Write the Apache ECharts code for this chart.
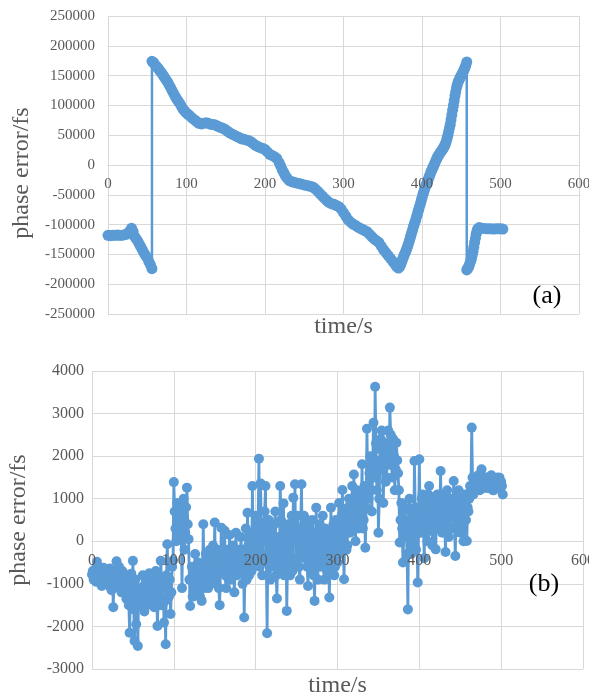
<!DOCTYPE html>
<html>
<head>
<meta charset="utf-8">
<script src="https://cdn.jsdelivr.net/npm/echarts@6/dist/echarts.min.js"></script>
<style>
html,body{margin:0;padding:0;background:#fff;}
#c{width:589px;height:696px;}
</style>
</head>
<body>
<div id="c"></div>
<script>
// ---- chart (a): time (s) and phase error (fs) ----
const timeA = [
  0,3,6,9,12,15,18,21,24,27,
  30,32,34,36,38,40,42,44,46,48,
  50,52,54,56,56,58,60,62,64,66,
  68,70,72,74,76,78,80,82,84,86,
  88,90,92,94,96,98,100,102,104,107,
  110,113,116,119,122,125,128,131,134,137,
  140,143,146,149,152,155,158,161,164,167,
  170,173,176,179,182,185,188,191,194,197,
  200,203,206,209,212,215,218,220,222,224,
  226,228,231,234,237,240,243,246,249,252,
  255,258,261,264,267,270,273,276,279,282,
  285,288,291,294,297,300,303,306,309,312,
  315,318,321,324,327,330,333,336,339,342,
  345,348,351,354,357,360,363,366,368,370,
  372,373,374,375,376,377,378,379,380,381,
  382,383,384,385,386,387,388,389,390,391,
  392,393,394,395,396,397,398,399,400,401,
  402,403,404,405,406,407,408,409,410,411,
  412,413,414,415,416,417,418,419,420,421,
  422,423,424,425,426,427,428,429,430,431,
  432,433,434,435,436,437,438,439,440,441,
  442,443,444,445,446,447,448,449,450,451,
  452,453,454,455,456,457,457,458,459,460,
  461,462,463,464,465,466,467,468,469,470,
  471,473,476,479,482,485,488,491,494,497,
  500,503
];
const phaseA = [
  -118000,-118500,-118000,-118000,-117500,-118000,-118000,-117000,-116000,-112000,
  -106000,-112000,-120000,-124000,-128000,-133000,-138000,-143000,-148000,-152000,
  -156000,-162000,-167000,-174000,174000,172000,168000,165000,162000,158000,
  155000,151000,147000,143000,139000,134000,129000,124000,119000,114000,
  110000,106000,102000,97000,93000,90000,87000,85000,83000,79000,
  76000,73000,70000,69000,70000,71000,70000,68000,68000,67000,
  65000,63000,62000,60000,57000,54000,52000,50000,48000,46000,
  44000,43000,42000,41000,39000,36000,33000,31000,29000,28000,
  26000,22000,18000,16000,14000,11000,4000,-2000,-8000,-13000,
  -18000,-22000,-26000,-28000,-29000,-30000,-31000,-32000,-33000,-34000,
  -35000,-36000,-37000,-40000,-44000,-48000,-52000,-56000,-60000,-63000,
  -65000,-66000,-68000,-70000,-74000,-80000,-86000,-92000,-96000,-99000,
  -101000,-104000,-106000,-108000,-110000,-112000,-116000,-120000,-124000,-127000,
  -130000,-136000,-142000,-147000,-152000,-157000,-162000,-167000,-171000,-173000,
  -170000,-166000,-163000,-159000,-156000,-152000,-149000,-146000,-143000,-139000,
  -135000,-131000,-127000,-122000,-118000,-113000,-109000,-104000,-100000,-96000,
  -92000,-87000,-83000,-78000,-74000,-69000,-65000,-60000,-55000,-50000,
  -46000,-42000,-38000,-34000,-31000,-27000,-24000,-20000,-17000,-13000,
  -10000,-7000,-4000,-1000,2000,5000,8000,11000,14000,16000,
  18000,20000,22000,24000,26000,28000,30000,33000,36000,40000,
  45000,50000,56000,62000,68000,76000,84000,92000,100000,108000,
  116000,123000,130000,135000,139000,142000,145000,148000,150000,153000,
  155000,158000,161000,164000,168000,173000,-176000,-174000,-172000,-169000,
  -165000,-161000,-157000,-151000,-145000,-138000,-130000,-123000,-116000,-111000,
  -107000,-105000,-106000,-106500,-107000,-107000,-107000,-107500,-107000,-107000,
  -107000,-107500
];

// ---- chart (b): samples at even seconds (0,2,4,...) and odd seconds (1,3,5,...) ----
const phaseBEven = [
  -780,-900,-650,-480,-950,-700,-1050,-620,-880,-720,
  -1000,-640,-1150,-1550,-700,-470,-1080,-650,-1200,-760,
  -900,-1350,-1100,-2150,-760,-460,-2340,-1950,-2460,-1200,
  -1500,-800,-1650,-900,-1300,-750,-1450,-850,-1550,-700,
  -1990,-900,-460,-1500,-1910,-2420,-70,-1300,-1710,-600,
  1390,300,900,100,750,-1100,1000,200,1260,50,
  -1520,-600,-1200,-300,-1000,-500,-1300,-1400,400,-800,
  -400,-1100,-200,-900,-100,440,-1000,-300,-1500,320,
  -700,250,-1100,-200,150,-900,-100,-1200,200,-600,
  -300,100,-1000,-1790,300,670,-800,200,1300,-500,
  600,-400,1940,1360,-800,400,1300,-2160,500,-900,
  300,-600,700,-1345,100,1300,-700,890,-300,-1635,
  400,-800,600,1025,1340,-500,200,-900,1340,-300,
  -400,500,-1050,300,-700,200,-1400,790,-900,400,
  -300,600,-900,200,-600,-1320,790,-200,-800,500,
  -500,900,-200,1205,-890,700,-100,1000,300,1300,
  1570,0,1200,300,900,1810,500,-150,2645,1000,
  2000,700,2785,3630,1200,200,2160,2600,900,2300,
  1500,2600,3140,1800,2400,1200,2315,1600,-30,900,
  -500,800,200,-1600,1000,-300,600,1885,-200,-970,
  1925,200,1100,-400,900,0,1300,300,-100,1000,
  -190,1100,300,1650,200,900,-250,1200,100,800,
  1000,1415,-345,700,1200,200,900,0,1100,5,
  700,1300,2670,1100,1450,1250,1550,1200,1690,1350,
  1500,1250,1450,1300,1550,1200,1400,1350,1500,1495,
  1400,1100
];
const phaseBOdd = [
  -700,-850,-950,-600,-800,-1000,-750,-900,-650,-950,
  -800,-1100,-700,-900,-1050,-850,-600,-1000,-700,-1100,
  -1200,-800,-1500,-1000,-1300,-1600,-900,-1400,-1100,-1500,
  -1100,-1400,-1000,-1500,-950,-1200,-1100,-1350,-1000,-1250,
  -1200,-1500,-900,-1100,-1400,-800,-1000,-900,-1200,-450,
  700,0,500,800,200,600,-200,800,400,-900,
  -900,-1300,-700,-1100,-800,-1200,-600,-900,-1100,-300,
  -800,-600,-1000,-400,-700,-900,-200,-1100,-600,-400,
  -300,-800,-500,-900,-400,-200,-700,-300,-800,-200,
  -700,-400,-200,-600,-900,-100,-400,-700,-100,200,
  -200,500,-600,200,-300,700,-500,0,-400,300,
  -300,400,-800,0,-500,500,-200,-800,300,-400,
  -200,300,-700,100,-400,600,-600,300,-200,600,
  100,-600,0,-400,500,-800,-200,-500,200,-600,
  200,-500,300,-700,100,-400,-100,400,-600,0,
  300,-300,600,0,400,-200,800,200,600,500,
  600,900,400,1100,600,300,1300,800,1200,1600,
  1200,1800,1500,2300,1900,1000,2400,1700,2000,1400,
  2100,1800,2500,1500,2000,1700,1900,1200,500,300,
  100,500,-300,400,700,100,-100,800,400,200,
  600,1000,400,800,200,1100,500,900,300,600,
  500,900,700,300,1100,400,800,500,1000,300,
  600,300,1000,400,700,1100,300,800,500,800,
  1000,1200,1500,1300,1200,1400,1300,1500,1250,1450,
  1300,1500,1250,1400,1350,1200,1450,1300,1250,1350,
  1300
];

// ---- axis ranges / labels ----
const xRange = {min: 0, max: 600, interval: 100};
const yRangeA = {min: -250000, max: 250000, interval: 50000};
const yRangeB = {min: -3000, max: 4000, interval: 1000};
const xTitle = 'time/s';
const yTitle = 'phase error/fs';
const panelTags = ['(a)', '(b)'];

const FONT = 'Liberation Serif';
const GRID_C = '#d9d9d9';
const TXT_C = '#595959';
const BLUE = '#5B9BD5';

const dataA = timeA.map((t, i) => [t, phaseA[i]]);
const dataB = [];
phaseBEven.forEach((v, i) => {
  dataB.push([2 * i, v]);
  if (i < phaseBOdd.length) dataB.push([2 * i + 1, phaseBOdd[i]]);
});

const plain = v => String(v);

// main grids: 0 = (a), 1 = (b); overlay grids 2, 3 end at the zero line and carry the x labels
const grids = [
  {left: 108, top: 16, width: 471, height: 298},
  {left: 92, top: 371, width: 491, height: 298},
  {left: 108, top: 16, width: 471, height: 149},
  {left: 92, top: 371, width: 491, height: 171}
];

function gridXAxis(gridIndex) {
  return Object.assign({
    type: 'value', gridIndex: gridIndex, position: 'bottom', z: 0,
    axisLine: {show: true, onZero: true, lineStyle: {color: GRID_C, width: 1}},
    axisTick: {show: false},
    axisLabel: {show: false},
    splitLine: {show: true, lineStyle: {color: GRID_C, width: 1}}
  }, xRange);
}
function labelXAxis(gridIndex, fontSize, margin, nameGap) {
  return Object.assign({
    type: 'value', gridIndex: gridIndex, position: 'bottom', z: 5,
    axisLine: {show: false, onZero: false},
    axisTick: {show: false},
    splitLine: {show: false},
    axisLabel: {color: TXT_C, fontSize: fontSize, fontFamily: FONT, margin: margin, formatter: plain},
    name: xTitle, nameLocation: 'middle', nameGap: nameGap,
    nameTextStyle: {color: TXT_C, fontSize: 24, fontFamily: FONT}
  }, xRange);
}
function yAxisOf(gridIndex, range, fontSize, margin, nameGap, pad) {
  return Object.assign({
    type: 'value', gridIndex: gridIndex,
    axisLine: {show: false},
    axisTick: {show: false},
    splitLine: {show: true, lineStyle: {color: GRID_C, width: 1}},
    axisLabel: {color: TXT_C, fontSize: fontSize, fontFamily: FONT, margin: margin, formatter: plain},
    name: yTitle, nameLocation: 'middle', nameGap: nameGap,
    nameTextStyle: {color: TXT_C, fontSize: 24, fontFamily: FONT, padding: pad}
  }, range);
}
function hiddenYAxis(gridIndex) {
  return {type: 'value', gridIndex: gridIndex, min: 0, max: 1, show: false};
}

const option = {
  animation: false,
  backgroundColor: '#ffffff',
  textStyle: {fontFamily: FONT},
  grid: grids.map(g => Object.assign({outerBoundsMode: 'none'}, g)),
  xAxis: [
    gridXAxis(0),
    gridXAxis(1),
    labelXAxis(2, 15, 12, 150),
    labelXAxis(3, 16, 11, 132)
  ],
  yAxis: [
    yAxisOf(0, yRangeA, 15, 13, 74, [0, 16, 0, 0]),
    yAxisOf(1, yRangeB, 16, 8, 61, [0, 0, 0, 0]),
    hiddenYAxis(2),
    hiddenYAxis(3)
  ],
  series: [
    {
      type: 'line', xAxisIndex: 0, yAxisIndex: 0, data: dataA, z: 2,
      symbol: 'circle', symbolSize: 11, showSymbol: true,
      lineStyle: {color: BLUE, width: 2.5},
      itemStyle: {color: BLUE}
    },
    {
      type: 'line', xAxisIndex: 1, yAxisIndex: 1, data: dataB, z: 2,
      symbol: 'circle', symbolSize: 10, showSymbol: true,
      lineStyle: {color: BLUE, width: 2.8},
      itemStyle: {color: BLUE}
    }
  ],
  graphic: [
    {type: 'text', x: 547, y: 296, z: 10,
     style: {text: panelTags[0], font: '26px "Liberation Serif"', fill: '#000', align: 'center', verticalAlign: 'middle'}},
    {type: 'text', x: 544, y: 584, z: 10,
     style: {text: panelTags[1], font: '26px "Liberation Serif"', fill: '#000', align: 'center', verticalAlign: 'middle'}}
  ]
};

const chart = echarts.init(document.getElementById('c'), null, {renderer: 'canvas'});
chart.setOption(option);
</script>
</body>
</html>
